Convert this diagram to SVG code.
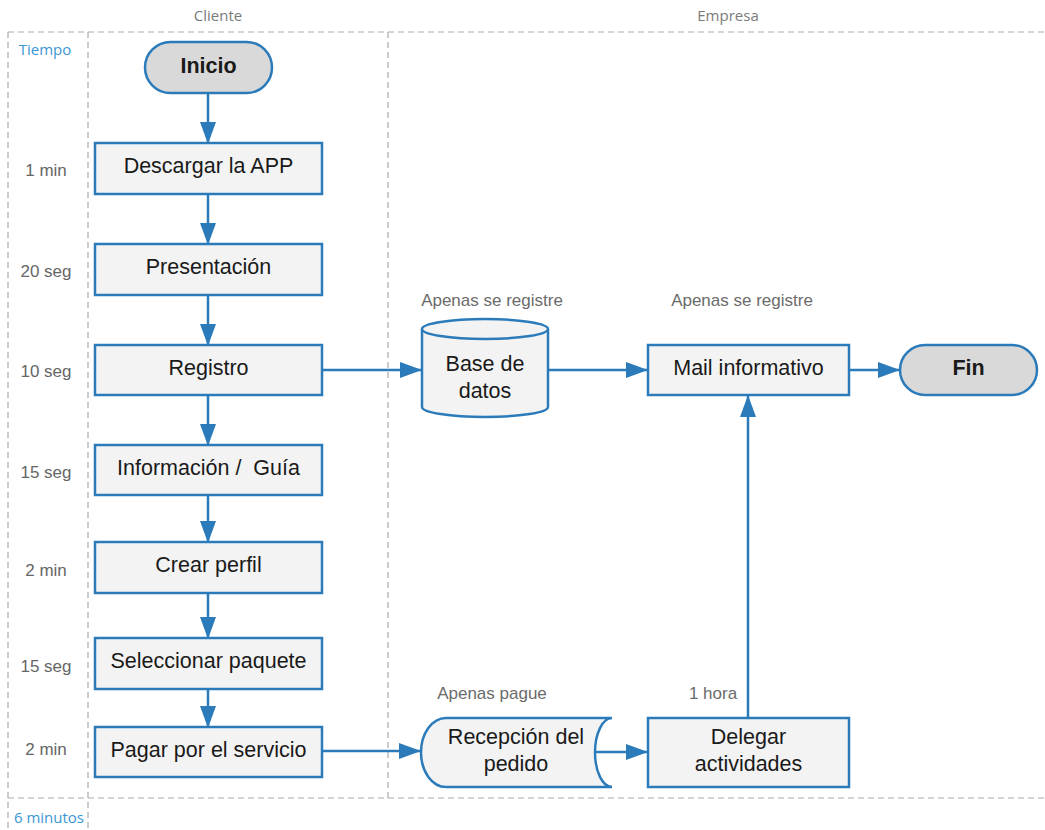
<svg xmlns="http://www.w3.org/2000/svg" width="1045" height="830" viewBox="0 0 1045 830">
  <style>
    .lane { stroke: #ababab; stroke-width: 1.2; stroke-dasharray: 6 4; fill: none; }
    .head { font-family: "Open Sans", "Liberation Sans", sans-serif; font-size: 15px; fill: #7a7a7a; text-anchor: middle; }
    .tot { font-family: "Open Sans", "Liberation Sans", sans-serif; font-size: 15px; fill: #3a97d4; text-anchor: middle; }
    .time { font-family: "Liberation Sans", Arial, sans-serif; font-size: 17px; fill: #666; text-anchor: middle; }
    .note { font-family: "Liberation Sans", Arial, sans-serif; font-size: 17px; fill: #6b6b6b; text-anchor: middle; }
    .box { fill: #f3f3f3; stroke: #2b7bba; stroke-width: 2.5; }
    .term { fill: #d9d9d9; stroke: #2b7bba; stroke-width: 2.5; }
    .lbl { font-family: "Liberation Sans", Arial, sans-serif; font-size: 21.5px; fill: #1a1a1a; text-anchor: middle; }
    .bold { font-weight: bold; }
    .edge { stroke: #2b7bba; stroke-width: 2.5; fill: none; marker-end: url(#arrow); }
  </style>
  <defs>
    <marker id="arrow" markerUnits="userSpaceOnUse" markerWidth="22" markerHeight="16" refX="21" refY="8" orient="auto">
      <path d="M0,0 L22,8 L0,16 Z" fill="#2b7bba"/>
    </marker>
  </defs>

  <rect width="1045" height="830" fill="#ffffff"/>

  <!-- swimlane frame -->
  <g id="lanes">
    <line class="lane" x1="8" y1="32" x2="1045" y2="32"/>
    <line class="lane" x1="8" y1="798" x2="1045" y2="798"/>
    <line class="lane" x1="8" y1="32" x2="8" y2="830"/>
    <line class="lane" x1="88" y1="32" x2="88" y2="830"/>
    <line class="lane" x1="388" y1="32" x2="388" y2="798"/>
    <text class="head" x="218" y="21">Cliente</text>
    <text class="head" x="728" y="21">Empresa</text>
    <text class="tot" x="45" y="55">Tiempo</text>
    <text class="tot" x="49" y="823">6 minutos</text>
  </g>

  <!-- time column -->
  <g id="times">
    <text class="time" x="46" y="176">1 min</text>
    <text class="time" x="46" y="277">20 seg</text>
    <text class="time" x="46" y="377">10 seg</text>
    <text class="time" x="46" y="478">15 seg</text>
    <text class="time" x="46" y="576">2 min</text>
    <text class="time" x="46" y="672">15 seg</text>
    <text class="time" x="46" y="755">2 min</text>
  </g>

  <!-- annotations -->
  <g id="notes">
    <text class="note" x="492" y="306">Apenas se registre</text>
    <text class="note" x="742" y="306">Apenas se registre</text>
    <text class="note" x="492" y="699">Apenas pague</text>
    <text class="note" x="713" y="699">1 hora</text>
  </g>

  <!-- connectors -->
  <g id="connectors">
    <line class="edge" x1="208" y1="93" x2="208" y2="143"/>
    <line class="edge" x1="208" y1="194" x2="208" y2="244"/>
    <line class="edge" x1="208" y1="295" x2="208" y2="345"/>
    <line class="edge" x1="208" y1="395" x2="208" y2="445"/>
    <line class="edge" x1="208" y1="495" x2="208" y2="542"/>
    <line class="edge" x1="208" y1="593" x2="208" y2="638"/>
    <line class="edge" x1="208" y1="689" x2="208" y2="727"/>
    <line class="edge" x1="322" y1="370" x2="421" y2="370"/>
    <line class="edge" x1="548" y1="370" x2="647" y2="370"/>
    <line class="edge" x1="849" y1="370" x2="899" y2="370"/>
    <line class="edge" x1="322" y1="751" x2="420" y2="751"/>
    <line class="edge" x1="596" y1="752" x2="647" y2="752"/>
    <line class="edge" x1="748" y1="718" x2="748" y2="396"/>
  </g>

  <g id="inicio">
    <rect class="term" x="145" y="42" width="127" height="51" rx="25.5"/>
    <text class="lbl bold" x="208.5" y="73">Inicio</text>
  </g>
  <g id="descargar">
    <rect class="box" x="95" y="143" width="227" height="51"/>
    <text class="lbl" x="208.5" y="173">Descargar la APP</text>
  </g>
  <g id="presentacion">
    <rect class="box" x="95" y="244" width="227" height="51"/>
    <text class="lbl" x="208.5" y="274">Presentación</text>
  </g>
  <g id="registro">
    <rect class="box" x="95" y="345" width="227" height="50"/>
    <text class="lbl" x="208.5" y="375">Registro</text>
  </g>
  <g id="informacion">
    <rect class="box" x="95" y="445" width="227" height="50"/>
    <text class="lbl" x="208.5" y="475" xml:space="preserve">Información /  Guía</text>
  </g>
  <g id="perfil">
    <rect class="box" x="95" y="542" width="227" height="51"/>
    <text class="lbl" x="208.5" y="572">Crear perfil</text>
  </g>
  <g id="paquete">
    <rect class="box" x="95" y="638" width="227" height="51"/>
    <text class="lbl" x="208.5" y="668">Seleccionar paquete</text>
  </g>
  <g id="pagar">
    <rect class="box" x="95" y="727" width="227" height="50"/>
    <text class="lbl" x="208.5" y="757">Pagar por el servicio</text>
  </g>

  <g id="base-datos">
    <path class="box" d="M422,329 A63,10 0 0 1 548,329 V407 A63,10 0 0 1 422,407 Z"/>
    <path class="box" d="M422,329 A63,10 0 0 0 548,329" fill="none"/>
    <text class="lbl" x="485" y="371">Base de</text>
    <text class="lbl" x="485" y="398">datos</text>
  </g>
  <g id="mail">
    <rect class="box" x="648" y="345" width="201" height="50"/>
    <text class="lbl" x="748.5" y="375">Mail informativo</text>
  </g>
  <g id="fin">
    <rect class="term" x="900" y="345" width="137" height="50" rx="25"/>
    <text class="lbl bold" x="968.5" y="375">Fin</text>
  </g>
  <g id="recepcion">
    <path class="box" d="M446,718 H612 A17,34.5 0 0 0 612,787 H446 A25,34.5 0 0 1 446,718 Z"/>
    <text class="lbl" x="516" y="744">Recepción del</text>
    <text class="lbl" x="516" y="771">pedido</text>
  </g>
  <g id="delegar">
    <rect class="box" x="648" y="718" width="201" height="69"/>
    <text class="lbl" x="748.5" y="744">Delegar</text>
    <text class="lbl" x="748.5" y="771">actividades</text>
  </g>
</svg>
